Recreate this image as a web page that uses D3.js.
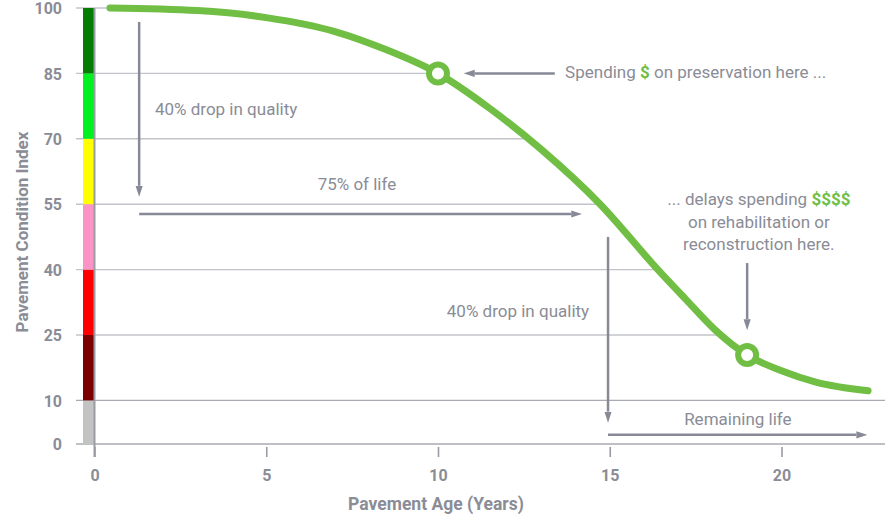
<!DOCTYPE html>
<html>
<head>
<meta charset="utf-8">
<script src="https://cdn.jsdelivr.net/npm/d3@7"></script>
<style>
  html, body { margin: 0; padding: 0; background: #fff; }
  svg { display: block; font-family: Roboto, "Noto Sans", sans-serif; }
</style>
</head>
<body>
<svg id="chart" width="893" height="520"></svg>
<script>
// Deterioration curve: pavement age (years) vs. condition index
const ageYears       = [0.45, 3, 5, 7, 8.5, 10, 11.5, 13, 14.72, 16.4, 17.2, 18.05, 19, 20, 21, 22.52];
const conditionIndex = [100, 99.4, 97.8, 94.6, 90.4, 85, 77, 67.6, 55, 40, 33.3, 26.3, 20.4, 16.8, 14.2, 12.2];

// Highlighted points on the curve
const markerAges  = [10, 19];
const markerIndex = [85, 20.4];

// Condition bands along the index axis
const bandLow  = [0, 10, 25, 40, 55, 70, 85];
const bandHigh = [10, 25, 40, 55, 70, 85, 100];
const bandColors = ["#c3c3c3", "#7d0000", "#ff0000", "#fb93c6", "#ffff00", "#00f020", "#057d05"];

// Axis ticks
const yTicks = [0, 10, 25, 40, 55, 70, 85, 100];
const xTicks = [0, 5, 10, 15, 20];

// Annotation arrows, in (years, index)
const arrowFrom = [[1.3, 96.8], [1.3, 52.75], [14.95, 47.5], [14.95, 2.1], [13.4, 85], [19, 41.5]];
const arrowTo   = [[1.3, 56.7], [14.2, 52.75], [14.95, 4.9], [22.5, 2.1], [10.75, 85], [19, 26.1]];

// Annotation texts, in (years, index) with anchor
const noteText   = ["40% drop in quality", "75% of life", "40% drop in quality", "Remaining life"];
const noteAt     = [[1.76, 75.5], [7.64, 58.3], [14.4, 29.1], [18.73, 4.36]];
const noteAnchor = ["start", "middle", "end", "middle"];

const svg = d3.select("#chart");
const GREEN = "#70bf44", GREY_TXT = "#8a8c96", ARROW = "#878a96";

const x = d3.scaleLinear().domain([0, 20]).range([94.5, 781.5]);
const y = d3.scaleLinear().domain([0, 100]).range([444, 8]);
const xRight = 885;

// Gridlines run only on the lower-left side of the curve
const defs = svg.append("defs");
const clip = defs.append("clipPath").attr("id", "under-curve");
const pts = ageYears.map((a, i) => [a, conditionIndex[i]]);
const area = d3.area().x(d => x(d[0])).y0(y(-10)).y1(d => y(d[1])).curve(d3.curveMonotoneX);
clip.append("path").attr("d", area(pts));
clip.append("rect").attr("x", 0).attr("y", 0).attr("width", x(ageYears[0])).attr("height", 520);
clip.append("rect").attr("x", x(ageYears[ageYears.length - 1])).attr("y", y(conditionIndex[conditionIndex.length - 1]))
  .attr("width", 100).attr("height", 200);

svg.append("g").attr("clip-path", "url(#under-curve)")
  .selectAll("line").data(yTicks).join("line")
  .attr("x1", 76).attr("x2", xRight)
  .attr("y1", d => y(d)).attr("y2", d => y(d))
  .attr("stroke", d => d <= 10 ? "#a9abb2" : "#c3c4c9")
  .attr("stroke-width", 1.4);

// Condition colour bar
svg.append("g").selectAll("rect").data(bandLow).join("rect")
  .attr("x", 83).attr("width", 11)
  .attr("y", (d, i) => y(bandHigh[i]))
  .attr("height", (d, i) => y(d) - y(bandHigh[i]))
  .attr("fill", (d, i) => bandColors[i]);

// Vertical axis line
svg.append("line")
  .attr("x1", x(0)).attr("x2", x(0))
  .attr("y1", y(100)).attr("y2", 457)
  .attr("stroke", "#9a9ca4").attr("stroke-width", 2);

// Y axis labels
const yAxis = svg.append("g").attr("transform", "translate(62,0)")
  .call(d3.axisLeft(y).tickValues(yTicks).tickSize(0).tickPadding(0));
yAxis.select(".domain").remove();
yAxis.selectAll("text")
  .attr("font-family", "Roboto, sans-serif").attr("font-size", 16).attr("font-weight", 700)
  .attr("fill", GREY_TXT).attr("dy", "0.36em");

// X axis ticks and labels
const xAxis = svg.append("g").attr("transform", "translate(0,447)")
  .call(d3.axisBottom(x).tickValues(xTicks).tickSize(10).tickPadding(0));
xAxis.select(".domain").remove();
xAxis.selectAll("line").attr("stroke", "#9a9ca4").attr("stroke-width", 1.6);
xAxis.selectAll("text")
  .attr("font-family", "Roboto, sans-serif").attr("font-size", 16).attr("font-weight", 700)
  .attr("fill", GREY_TXT).attr("y", 34).attr("dy", 0);

// Axis titles
svg.append("text").attr("x", 436).attr("y", 510).attr("text-anchor", "middle")
  .attr("font-size", 17.5).attr("font-weight", 700).attr("fill", GREY_TXT)
  .text("Pavement Age (Years)");
svg.append("text").attr("transform", "translate(27.5,232) rotate(-90)").attr("text-anchor", "middle")
  .attr("font-size", 17).attr("font-weight", 700).attr("fill", GREY_TXT)
  .text("Pavement Condition Index");

// Arrowhead
defs.append("marker").attr("id", "head")
  .attr("viewBox", "0 -4 11 8").attr("refX", 0).attr("refY", 0)
  .attr("markerUnits", "userSpaceOnUse").attr("markerWidth", 11).attr("markerHeight", 8)
  .attr("orient", "auto")
  .append("path").attr("d", "M0,-3.6L11,0L0,3.6Z").attr("fill", ARROW);

const HEAD = 11;
svg.append("g").selectAll("line").data(arrowFrom).join("line")
  .each(function (d, i) {
    const x1 = x(d[0]), y1 = y(d[1]);
    const x2 = x(arrowTo[i][0]), y2 = y(arrowTo[i][1]);
    const len = Math.hypot(x2 - x1, y2 - y1);
    const k = (len - HEAD) / len;
    d3.select(this)
      .attr("x1", x1).attr("y1", y1)
      .attr("x2", x1 + (x2 - x1) * k).attr("y2", y1 + (y2 - y1) * k);
  })
  .attr("stroke", ARROW).attr("stroke-width", 2.5)
  .attr("marker-end", "url(#head)");

// Annotation texts
svg.append("g").selectAll("text").data(noteText).join("text")
  .attr("x", (d, i) => x(noteAt[i][0])).attr("y", (d, i) => y(noteAt[i][1]))
  .attr("text-anchor", (d, i) => noteAnchor[i])
  .attr("font-size", 17).attr("fill", GREY_TXT)
  .text(d => d);

const spend = svg.append("text").attr("x", x(13.7)).attr("y", y(83.9))
  .attr("font-size", 17).attr("fill", GREY_TXT);
spend.append("tspan").text("Spending ");
spend.append("tspan").attr("fill", GREEN).attr("font-weight", 700).text("$");
spend.append("tspan").text(" on preservation here ...");

const delay = svg.append("g").attr("font-size", 17).attr("fill", GREY_TXT).attr("text-anchor", "middle");
const l1 = delay.append("text").attr("x", x(19.34)).attr("y", y(54.8));
l1.append("tspan").text("... delays spending ");
l1.append("tspan").attr("fill", GREEN).attr("font-weight", 700).text("$$$$");
delay.append("text").attr("x", x(19.34)).attr("y", y(49.5)).text("on rehabilitation or");
delay.append("text").attr("x", x(19.34)).attr("y", y(44.5)).text("reconstruction here.");

// Deterioration curve
svg.append("path")
  .attr("d", d3.line().x(d => x(d[0])).y(d => y(d[1])).curve(d3.curveMonotoneX)(pts))
  .attr("fill", "none").attr("stroke", GREEN).attr("stroke-width", 7)
  .attr("stroke-linecap", "round").attr("stroke-linejoin", "round");

// Marker circles
svg.append("g").selectAll("circle").data(markerAges).join("circle")
  .attr("cx", d => x(d)).attr("cy", (d, i) => y(markerIndex[i]))
  .attr("r", 9).attr("fill", "#fff").attr("stroke", GREEN).attr("stroke-width", 6);
</script>
</body>
</html>
